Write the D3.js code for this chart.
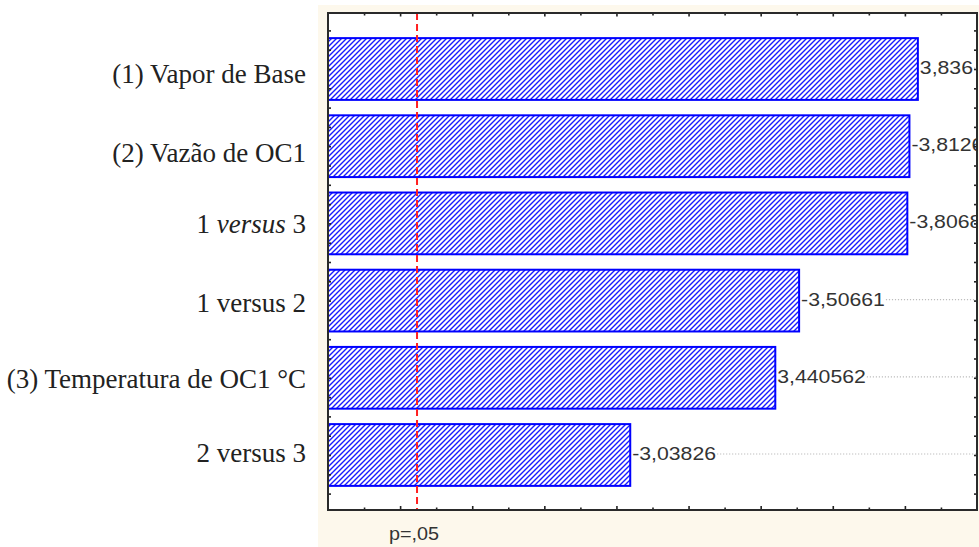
<!DOCTYPE html>
<html>
<head>
<meta charset="utf-8">
<script src="https://cdn.jsdelivr.net/npm/d3@7"></script>
<style>
  html, body { margin: 0; padding: 0; background: #ffffff; }
  svg { display: block; }
</style>
</head>
<body>
<svg id="chart" width="979" height="547"></svg>
<script>
// Pareto chart of standardized effects (absolute values), p = 0.05 reference line
const factors = [
  "(1) Vapor de Base",
  "(2) Vazão de OC1",
  "1 versus 3",
  "1 versus 2",
  "(3) Temperatura de OC1 °C",
  "2 versus 3"
];
const effects = [3.836, -3.8126, -3.8068, -3.50661, 3.440562, -3.03826];
const tCritical = 2.446912;          // two-sided t at p = .05
const pLabel = "p=,05";
const xDomain = [2.2, 4.0];
const xMajorTicks = [2.4, 2.6, 2.8, 3.0, 3.2, 3.4, 3.6, 3.8];
const xMinorTicks = [2.3, 2.5, 2.7, 2.9, 3.1, 3.3, 3.5, 3.7, 3.9];

const svg = d3.select("#chart");
const W = 979, H = 547;
const plot = { left: 328, right: 977, top: 13, bottom: 510 };
const numStretch = 1.18;                       // wide numeric lettering
const catBaseline = [14, 16, 10, 11, 10, 7];   // baseline drop of each factor label below its bar centre

// panel background
svg.append("rect").attr("x", 318).attr("y", 5).attr("width", W - 318).attr("height", H - 5)
  .attr("fill", "#fdf8ec");
svg.append("rect").attr("x", plot.left).attr("y", plot.top)
  .attr("width", plot.right - plot.left).attr("height", plot.bottom - plot.top)
  .attr("fill", "#ffffff");

const x = d3.scaleLinear().domain(xDomain).range([plot.left, plot.right]);
const y = d3.scaleBand().domain(factors).range([plot.top + 1, plot.bottom])
  .paddingInner(0.2).paddingOuter(0.3125);
const center = f => y(f) + y.bandwidth() / 2;
// index scale used for the quarter-band ticks on the vertical axes
const yIdx = d3.scaleLinear().domain([0, factors.length - 1])
  .range([center(factors[0]), center(factors[factors.length - 1])]);
const yTicks = d3.range(-0.5, factors.length - 0.5 + 0.001, 0.25);

// hatch pattern
const defs = svg.append("defs");
const pat = defs.append("pattern").attr("id", "hatch")
  .attr("patternUnits", "userSpaceOnUse").attr("width", 5).attr("height", 5);
pat.append("rect").attr("width", 5).attr("height", 5).attr("fill", "#ffffff");
pat.append("path").attr("d", "M-1,1 l2,-2 M0,5 l5,-5 M4,6 l2,-2")
  .attr("stroke", "#1a1aff").attr("stroke-width", 1.4);

defs.append("clipPath").attr("id", "plotClip").append("rect")
  .attr("x", plot.left).attr("y", plot.top)
  .attr("width", plot.right - plot.left).attr("height", plot.bottom - plot.top);

const g = svg.append("g").attr("clip-path", "url(#plotClip)");

// bars
g.selectAll("rect.bar").data(factors).join("rect")
  .attr("class", "bar")
  .attr("x", x(xDomain[0]))
  .attr("y", d => y(d))
  .attr("width", (d, i) => x(Math.abs(effects[i])) - x(xDomain[0]))
  .attr("height", y.bandwidth())
  .attr("fill", "url(#hatch)")
  .attr("stroke", "#0000ff").attr("stroke-width", 2);

// value labels with dotted leaders
const fmt = v => String(+v.toPrecision(7)).replace(".", ",");
const leaders = g.append("g");
const labels = g.selectAll("text.val").data(factors).join("text")
  .attr("class", "val")
  .attr("transform", (d, i) =>
    `translate(${x(Math.abs(effects[i])) + 2},${center(d) + 5}) scale(${numStretch},1)`)
  .attr("font-family", "Liberation Sans, Arial, sans-serif")
  .attr("font-size", 18)
  .attr("fill", "#333333")
  .text((d, i) => fmt(effects[i]));

labels.each(function(d, i) {
  const x0 = x(Math.abs(effects[i])) + 2 + this.getComputedTextLength() * numStretch + 1;
  leaders.append("line")
    .attr("x1", x0).attr("x2", plot.right)
    .attr("y1", center(d) - 1).attr("y2", center(d) - 1)
    .attr("stroke", "#bdbdbd").attr("stroke-width", 1.2)
    .attr("stroke-dasharray", "1.2,1.8");
});

// critical value line
g.append("line")
  .attr("x1", x(tCritical)).attr("x2", x(tCritical))
  .attr("y1", plot.top).attr("y2", plot.bottom)
  .attr("stroke", "#ff2020").attr("stroke-width", 2)
  .attr("stroke-dasharray", "7,4");

// axes: inward ticks, no tick labels
function styleAxis(sel) {
  sel.select(".domain").remove();
  sel.selectAll(".tick line").attr("stroke", "#222").attr("stroke-width", 1.6);
}
svg.append("g").attr("transform", `translate(0,${plot.bottom})`)
  .call(d3.axisBottom(x).tickValues(xMajorTicks).tickSize(-4).tickFormat(""))
  .call(styleAxis);
svg.append("g").attr("transform", `translate(0,${plot.bottom})`)
  .call(d3.axisBottom(x).tickValues(xMinorTicks).tickSize(-2.5).tickFormat(""))
  .call(styleAxis);
svg.append("g").attr("transform", `translate(0,${plot.top})`)
  .call(d3.axisTop(x).tickValues(xMajorTicks).tickSize(-3.5).tickFormat(""))
  .call(styleAxis);
svg.append("g").attr("transform", `translate(0,${plot.top})`)
  .call(d3.axisTop(x).tickValues(xMinorTicks).tickSize(-2.5).tickFormat(""))
  .call(styleAxis);
svg.append("g").attr("transform", `translate(${plot.left},0)`)
  .call(d3.axisLeft(yIdx).tickValues(yTicks).tickSize(-3).tickFormat(""))
  .call(styleAxis);
svg.append("g").attr("transform", `translate(${plot.right},0)`)
  .call(d3.axisRight(yIdx).tickValues(yTicks).tickSize(-3).tickFormat(""))
  .call(styleAxis);

// frame
svg.append("rect").attr("x", plot.left).attr("y", plot.top)
  .attr("width", plot.right - plot.left).attr("height", plot.bottom - plot.top)
  .attr("fill", "none").attr("stroke", "#2a2a2a").attr("stroke-width", 2);

// p-value label under the critical line
svg.append("text")
  .attr("transform", `translate(${x(tCritical) - 3},540) scale(1.1,1)`)
  .attr("text-anchor", "middle")
  .attr("font-family", "Liberation Sans, Arial, sans-serif")
  .attr("font-size", 18).attr("fill", "#333333")
  .text(pLabel);

// factor labels
const cat = svg.append("g")
  .attr("font-family", "Liberation Serif, Times New Roman, serif")
  .attr("font-size", 27).attr("fill", "#222222")
  .attr("text-anchor", "end");
factors.forEach((f, i) => {
  const t = cat.append("text").attr("x", 306).attr("y", center(f) + catBaseline[i]);
  if (f === "1 versus 3") {
    t.append("tspan").text("1 ");
    t.append("tspan").attr("font-style", "italic").text("versus");
    t.append("tspan").text(" 3");
  } else {
    t.text(f);
  }
});
</script>
</body>
</html>
